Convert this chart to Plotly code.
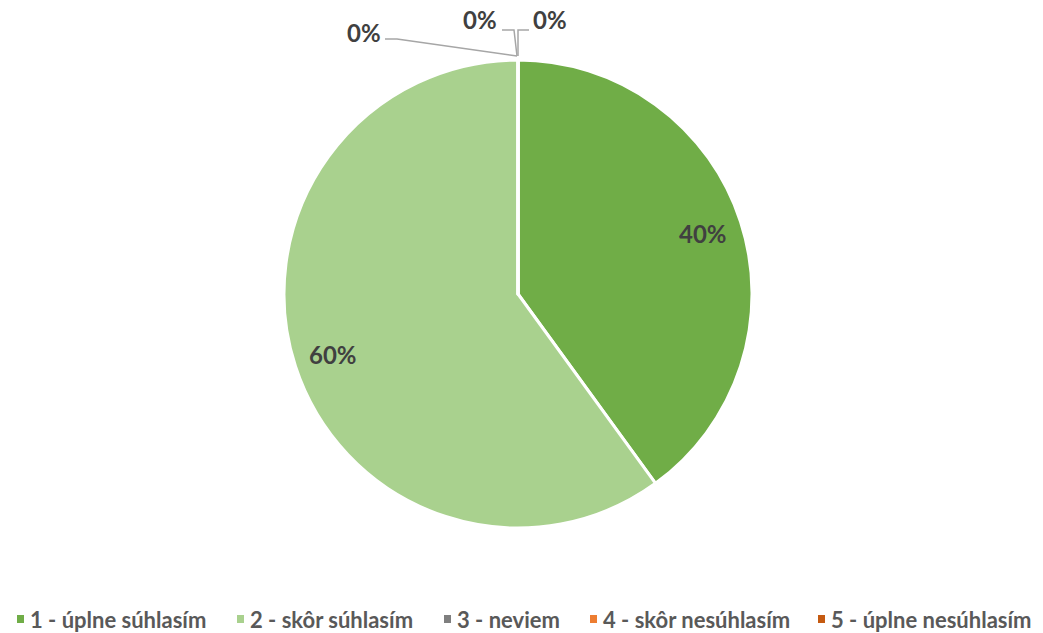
import math
import plotly.graph_objects as go

# ---- data ----
categories = ["1 - úplne súhlasím", "2 - skôr súhlasím", "3 - neviem",
              "4 - skôr nesúhlasím", "5 - úplne nesúhlasím"]
values = [40, 60, 0, 0, 0]
colors = ["#70AD47", "#A9D18E", "#7F7F7F", "#ED7D31", "#C55A11"]

# ---- layout constants (pixels in the 1043x633 page) ----
W, H = 1043, 633
CX, CY, R = 518, 294, 234

def px(x):
    return x / W

def py(y):
    return 1 - y / H

fig = go.Figure()
fig.add_trace(go.Pie(
    labels=categories, values=values, sort=False, direction="clockwise",
    rotation=0, marker=dict(colors=colors, line=dict(color="white", width=3)),
    textinfo="none", showlegend=False,
    domain=dict(x=[px(CX - R), px(CX + R)], y=[py(CY + R), py(CY - R)]),
    hovertemplate="%{label}: %{percent}<extra></extra>",
))

total = sum(values)
label_font = dict(family="Lato", size=24, color="#404040", weight="bold")
annotations = []
shapes = []

# labels for non-zero slices, on the slice bisector
cum = 0
zero_idx = []
for i, v in enumerate(values):
    frac = v / total
    if v > 0:
        mid = (cum + frac / 2) * 2 * math.pi
        rr = 0.83 * R
        x = CX + rr * math.sin(mid)
        y = CY - rr * math.cos(mid)
        annotations.append(dict(x=px(x), y=py(y), xref="paper", yref="paper",
                                xanchor="center", yanchor="middle",
                                text=f"{round(frac*100)}%", showarrow=False,
                                font=label_font))
    else:
        zero_idx.append(i)
    cum += frac

# zero slices: labels with leader lines above the top of the pie
top_x, top_y = CX, CY - R
zero_layout = [
    # (label centre offset dx, dy), leader path offsets
    ((-154, -28), [(-133, -21), (-121, -21), (-1, -4)]),
    ((-38, -40), [(-16, -30), (-4, -30), (-1, -4)]),
    ((32, -40), [(11, -30), (0, -30), (0, -4)]),
]
for k, i in enumerate(zero_idx):
    (dx, dy), path = zero_layout[k]
    frac = values[i] / total
    annotations.append(dict(x=px(top_x + dx), y=py(top_y + dy), xref="paper",
                            yref="paper", xanchor="center", yanchor="middle",
                            text=f"{round(frac*100)}%",
                            showarrow=False, font=label_font))
    pts = [(top_x + a, top_y + b) for a, b in path]
    d = "M " + " L ".join(f"{px(a)},{py(b)}" for a, b in pts)
    shapes.append(dict(type="path", path=d, xref="paper", yref="paper",
                       line=dict(color="#A6A6A6", width=1.5)))

# custom legend along the bottom
legend_x = [17, 237, 444, 590, 818]
legend_y = 619
for i, name in enumerate(categories):
    x0 = legend_x[i]
    shapes.append(dict(type="rect", xref="paper", yref="paper",
                       x0=px(x0), x1=px(x0 + 7), y0=py(legend_y + 4),
                       y1=py(legend_y - 4), fillcolor=colors[i], line_width=0))
    annotations.append(dict(x=px(x0 + 11), y=py(legend_y), xref="paper",
                            yref="paper", xanchor="left", yanchor="middle",
                            text=name, showarrow=False,
                            font=dict(family="Lato", size=22, color="#595959",
                                      weight="bold")))

fig.update_layout(width=W, height=H, margin=dict(l=0, r=0, t=0, b=0),
                  paper_bgcolor="white", plot_bgcolor="white",
                  annotations=annotations, shapes=shapes)
fig.write_html("out.html", config={"displayModeBar": False},
               post_script="document.body.style.margin='0';"
                           "document.body.style.overflow='hidden';")
